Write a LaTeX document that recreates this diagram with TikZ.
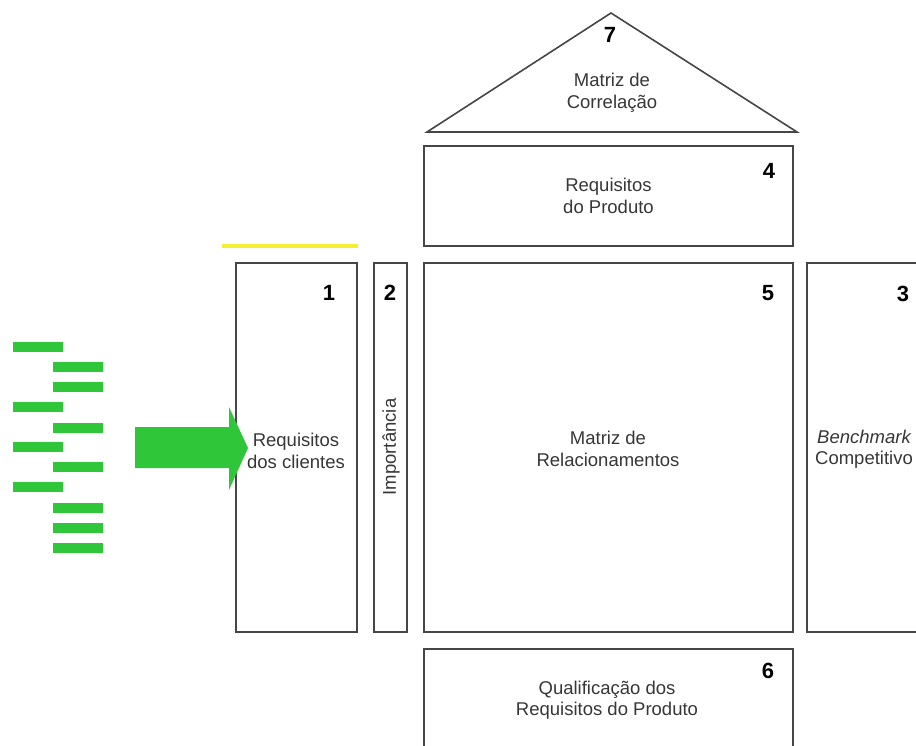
\documentclass[tikz,border=0pt]{standalone}
\usepackage{fontspec}
\setmainfont{Liberation Sans}
\begin{document}
\begin{tikzpicture}[x=1pt,y=-1pt,
  part/.style={draw=linegray,line width=1.6pt,inner sep=0pt,anchor=center},
  label/.style={text=textgray,align=center,inner sep=0pt,
    font=\fontsize{18.5}{21.5}\selectfont},
  num/.style={text=black,inner sep=0pt,font=\fontsize{22}{24}\selectfont\bfseries},
  bar/.style={fill=qgreen,draw=none}]
\definecolor{linegray}{RGB}{70,70,70}
\definecolor{textgray}{RGB}{55,55,55}
\definecolor{qgreen}{RGB}{48,198,58}
\definecolor{qyellow}{RGB}{245,238,50}

\useasboundingbox[fill=white] (0,0) rectangle (916,745);
\clip (0,0) rectangle (916,745);

% roof: correlation matrix
\coordinate (roofL) at (427,132);
\coordinate (roofT) at (611,13);
\coordinate (roofR) at (797,132);
\draw[draw=linegray,line width=1.6pt,line join=miter] (roofL) -- (roofT) -- (roofR) -- cycle;
\node[num] (n7) at (610,35) {7};
\node[label] (corr) at (612,93) {Matriz de\\Correlação};

% product requirements
\node[part,minimum width=369pt,minimum height=100pt] (prod) at (608.5,196) {};
\node[label] at (prod.center) {Requisitos\\do Produto};
\node[num] (n4) at (769,171) {4};

% customer requirements
\node[part,minimum width=121pt,minimum height=369pt] (cust) at (296.5,447.5) {};
\node[label] at (296,451) {Requisitos\\dos clientes};
\node[num] (n1) at (329,293) {1};

% importance column
\node[part,minimum width=33pt,minimum height=369pt] (imp) at (390.5,447.5) {};
\node[label,rotate=90] at (391,447) {Importância};
\node[num] (n2) at (390,293) {2};

% relationship matrix
\node[part,minimum width=369pt,minimum height=369pt] (rel) at (608.5,447.5) {};
\node[label] at (608,449) {Matriz de\\Relacionamentos};
\node[num] (n5) at (768,293) {5};

% competitive benchmark
\node[part,minimum width=120pt,minimum height=369pt] (bench) at (867,447.5) {};
\node[label] at (864,449) {\itshape Benchmark\\Competitivo};
\node[num] (n3) at (903,294) {3};

% technical assessment
\node[part,minimum width=369pt,minimum height=111pt] (qual) at (608.5,704.5) {};
\node[label] at (607,700) {Qualificação dos\\Requisitos do Produto};
\node[num] (n6) at (768,671) {6};

% highlight above the customer column
\draw[qyellow,line width=4pt] (222,246) -- (358,246);

% voice of the customer
\foreach \y in {347,407,447,487} \fill[bar] (13,\y-5) rectangle (63,\y+5);
\foreach \y in {367,387,428,467,508,528,548} \fill[bar] (53,\y-5) rectangle (103,\y+5);

% input arrow
\fill[qgreen] (135,427) -- (229,427) -- (229,407) -- (248,448) -- (229,490)
  -- (229,468) -- (135,468) -- cycle;
\end{tikzpicture}
\end{document}
